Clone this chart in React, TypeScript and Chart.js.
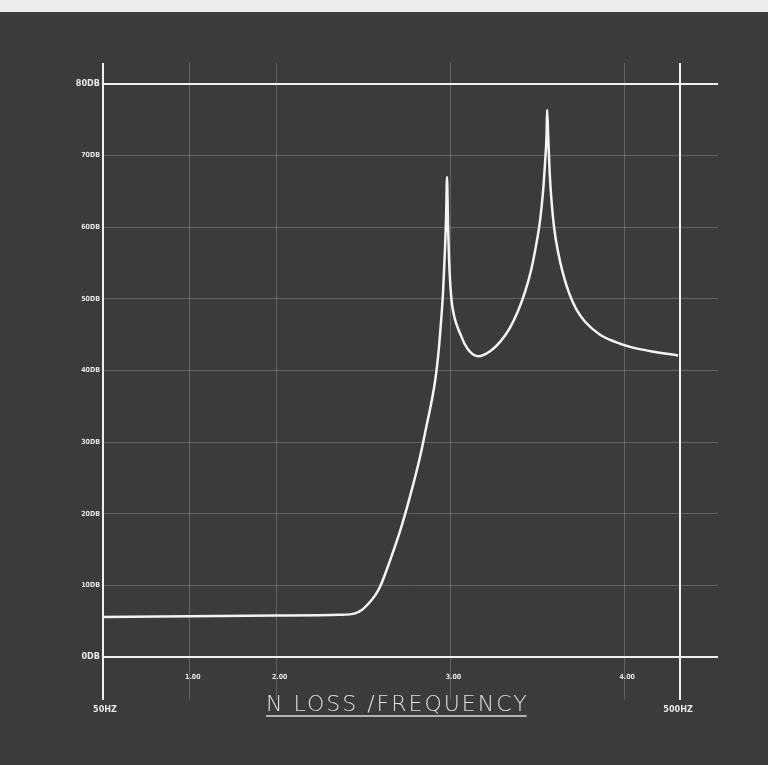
import React, { useEffect, useRef } from "react";
import { Chart, registerables } from "chart.js";

Chart.register(...registerables);

// Frequency (Hz) of each sampled point of the trace
const frequencies = [
  50, 70.7, 99.8, 128.7, 136.7, 140.6, 144.0, 148.1, 151.0, 157.2, 163.6,
  170.3, 177.2, 181.5, 185.8, 188.1, 190.4, 192.7, 194.2, 195.7, 196.5, 197.3,
  198.1, 198.9, 199.7, 200.5, 201.3, 202.5, 203.7, 205.8, 207.8, 212.0, 216.3,
  223.3, 234.3, 243.8, 253.7, 261.9, 269.4, 275.9, 281.5, 286.0, 289.4, 291.7,
  293.5, 294.1, 295.3, 297.0, 298.8, 302.4, 307.3, 313.5, 321.1, 330.2, 342.2,
  363.3, 385.8, 409.6, 443.8, 496,
];
// Level (dB) of the trace
const levels = [
  5.6, 5.7, 5.8, 5.9, 6.1, 6.6, 7.4, 8.6, 9.8, 13.5, 17.6,
  22.5, 28, 32, 36, 38.5, 42, 47, 51, 57, 61, 67,
  60, 55.5, 52.5, 50.5, 49.2, 48, 47.1, 46, 45.2, 43.6, 42.6,
  42, 42.7, 44, 46, 48.3, 51, 54, 57.5, 61, 65, 69,
  73, 76.4, 73, 68, 64.5, 60, 56.5, 53.5, 50.8, 48.6, 46.8,
  45.0, 44, 43.3, 42.7, 42.1,
];

// Axis ticks / gridlines
const yTickValues = [0, 10, 20, 30, 40, 50, 60, 70, 80];
const yTickLabels = ["0DB", "10DB", "20DB", "30DB", "40DB", "50DB", "60DB", "70DB", "80DB"];
const xGridValues = [50, 70.7, 100, 200, 400, 500];
const xInnerLabelValues = [70.7, 100, 200, 400];
const xInnerLabels = ["1.00", "2.00", "3.00", "4.00"];
const xEndLabels = ["50HZ", "500HZ"];
const title = "N LOSS /FREQUENCY";

export default function App() {
  const ref = useRef<HTMLCanvasElement | null>(null);

  useEffect(() => {
    const canvas = ref.current;
    if (!canvas) return;

    const bgPlugin = {
      id: "bg",
      beforeDraw(chart: any) {
        const c = chart.ctx;
        c.save();
        c.fillStyle = "#3b3b3b";
        c.fillRect(0, 0, chart.width, chart.height);
        c.fillStyle = "#ececec";
        c.fillRect(0, 0, chart.width, 12);
        c.restore();
      },
    };

    const labelPlugin = {
      id: "labels",
      afterDraw(chart: any) {
        const c = chart.ctx;
        const xs = chart.scales.x;
        const ys = chart.scales.y;
        c.save();
        c.fillStyle = "rgba(255,255,255,0.88)";
        c.textBaseline = "middle";
        // Y labels
        c.textAlign = "right";
        yTickValues.forEach((v, i) => {
          const bold = v === 0 || v === 80;
          c.font = (bold ? "bold 9px" : "bold 7px") + ' "DejaVu Sans Condensed", "DejaVu Sans", sans-serif';
          c.fillText(yTickLabels[i], xs.getPixelForValue(50) - 3, ys.getPixelForValue(v));
        });
        // X inner labels
        c.textAlign = "center";
        c.font = 'bold 7px "DejaVu Sans Condensed", "DejaVu Sans", sans-serif';
        const yLab = ys.getPixelForValue(0) + 20;
        xInnerLabelValues.forEach((v, i) => {
          c.fillText(xInnerLabels[i], xs.getPixelForValue(v) + 3, yLab);
        });
        // End labels
        c.font = 'bold 9px "DejaVu Sans Condensed", "DejaVu Sans", sans-serif';
        c.fillText(xEndLabels[0], xs.getPixelForValue(50) + 2, ys.getPixelForValue(0) + 53);
        c.fillText(xEndLabels[1], xs.getPixelForValue(500) - 2, ys.getPixelForValue(0) + 53);
        // Title
        c.textAlign = "left";
        c.textBaseline = "alphabetic";
        c.fillStyle = "rgba(235,235,235,0.92)";
        c.font = '200 22px "DejaVu Sans", sans-serif';
        try {
          (c as any).letterSpacing = "2px";
        } catch (e) {}
        const tx = 266;
        const ty = 711;
        c.fillText(title, tx, ty);
        const w = c.measureText(title).width;
        (c as any).letterSpacing = "0px";
        c.strokeStyle = "rgba(235,235,235,0.92)";
        c.lineWidth = 1.5;
        c.beginPath();
        c.moveTo(tx, ty + 5);
        c.lineTo(tx + w - 2, ty + 5);
        c.stroke();
        c.restore();
      },
    };

    const chart = new Chart(canvas, {
      type: "line",
      data: {
        datasets: [
          {
            data: frequencies.map((f, i) => ({ x: f, y: levels[i] })),
            borderColor: "#f4f4f4",
            borderWidth: 2.5,
            pointRadius: 0,
            cubicInterpolationMode: "monotone",
            fill: false,
          },
        ],
      },
      options: {
        animation: false,
        responsive: false,
        maintainAspectRatio: false,
        layout: { padding: { left: 103, right: 50, top: 63, bottom: 65 } },
        plugins: { legend: { display: false }, tooltip: { enabled: false } },
        scales: {
          x: {
            type: "logarithmic",
            min: 50,
            max: 581.6,
            afterBuildTicks: (s: any) => {
              s.ticks = xGridValues.map((v) => ({ value: v }));
            },
            ticks: { display: false },
            border: { display: false },
            grid: {
              drawTicks: false,
              color: (ctx: any) =>
                ctx.tick && (ctx.tick.value === 50 || ctx.tick.value === 500)
                  ? "rgba(250,250,250,0.95)"
                  : "rgba(255,255,255,0.2)",
              lineWidth: (ctx: any) =>
                ctx.tick && (ctx.tick.value === 50 || ctx.tick.value === 500) ? 2 : 1,
            },
          },
          y: {
            type: "linear",
            min: -6.0,
            max: 82.93,
            afterBuildTicks: (s: any) => {
              s.ticks = yTickValues.map((v) => ({ value: v }));
            },
            ticks: { display: false },
            border: { display: false },
            grid: {
              drawTicks: false,
              color: (ctx: any) =>
                ctx.tick && (ctx.tick.value === 0 || ctx.tick.value === 80)
                  ? "rgba(250,250,250,0.95)"
                  : "rgba(255,255,255,0.2)",
              lineWidth: (ctx: any) =>
                ctx.tick && (ctx.tick.value === 0 || ctx.tick.value === 80) ? 2 : 1,
            },
          },
        },
      },
      plugins: [bgPlugin, labelPlugin],
    } as any);

    return () => chart.destroy();
  }, []);

  return (
    <div style={{ position: "fixed", left: 0, top: 0, width: 768, height: 765 }}>
      <canvas ref={ref} width={768} height={765} style={{ display: "block", width: 768, height: 765 }} />
    </div>
  );
}
